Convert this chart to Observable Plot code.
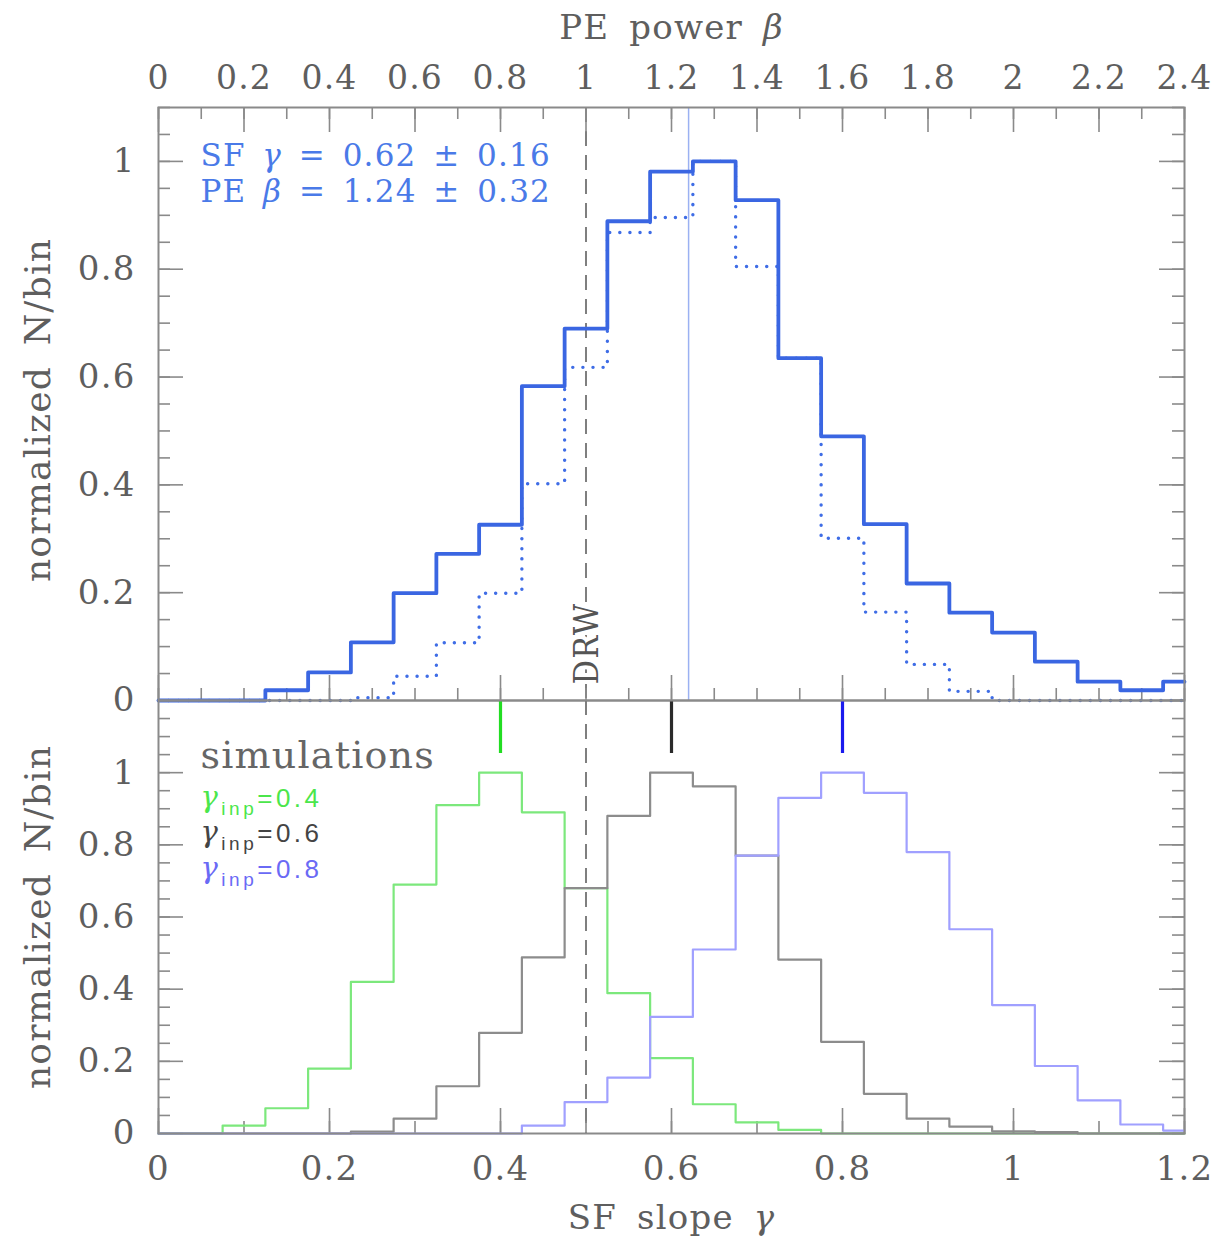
<!DOCTYPE html>
<html><head><meta charset="utf-8">
<script src="https://cdn.jsdelivr.net/npm/d3@7"></script>
<script src="https://cdn.jsdelivr.net/npm/@observablehq/plot@0.6"></script>
<style>
body{margin:0;background:#fff;}
#chart{width:1219px;}
#chart svg{display:block;overflow:visible;}
#chart text{letter-spacing:1.2px;word-spacing:8px;}
</style></head><body><div id="chart"></div>
<script>
// ---------- data ----------
const binCenters = [0,0.05,0.10,0.15,0.20,0.25,0.30,0.35,0.40,0.45,0.50,0.55,0.60,0.65,0.70,0.75,0.80,0.85,0.90,0.95,1.00,1.05,1.10,1.15,1.20];
const obsSolid  = [0,0,0,0.019,0.052,0.108,0.199,0.272,0.326,0.583,0.69,0.889,0.981,1.0,0.928,0.635,0.49,0.327,0.217,0.163,0.126,0.072,0.035,0.019,0.035];
const obsDotted = [0,0,0,0,0,0.005,0.045,0.107,0.199,0.402,0.618,0.868,0.896,1.0,0.805,0.635,0.301,0.164,0.067,0.017,0,0,0,0,0];
const simGreen  = [0,0,0.022,0.07,0.18,0.42,0.69,0.91,1.0,0.89,0.68,0.389,0.209,0.081,0.031,0.01,0,0,0,0,0,0,0,0,0];
const simGray   = [0,0,0,0,0,0.005,0.041,0.131,0.279,0.488,0.68,0.88,1.0,0.962,0.77,0.482,0.254,0.11,0.041,0.019,0.006,0.004,0,0,0];
const simBlue   = [0,0,0,0,0,0,0,0,0,0.022,0.087,0.155,0.323,0.51,0.77,0.93,1.0,0.944,0.78,0.566,0.356,0.187,0.092,0.025,0.008];
const simInputs = [0.4,0.6,0.8];
const simLabels = ["γ_inp=0.4","γ_inp=0.6","γ_inp=0.8"];
const fitGamma = 0.62;
const drwGamma = 0.5;
const statLines = ["SF\u2002γ\u2002=\u20020.62\u2002±\u20020.16","PE\u2002β\u2002=\u20021.24\u2002±\u20020.32"];
const gammaTicks = [0,0.2,0.4,0.6,0.8,1.0,1.2];
const gammaTickLabels = ["0","0.2","0.4","0.6","0.8","1","1.2"];
const betaTicksGamma = [0,0.1,0.2,0.3,0.4,0.5,0.6,0.7,0.8,0.9,1.0,1.1,1.2];
const betaTickLabels = ["0","0.2","0.4","0.6","0.8","1","1.2","1.4","1.6","1.8","2","2.2","2.4"];
const yTicks = [0,0.2,0.4,0.6,0.8,1];
const yTickLabels = ["0","0.2","0.4","0.6","0.8","1"];

// ---------- layout ----------
const W = 1219, ML = 158, MR = 35;
const innerW = W - ML - MR;
const FONT = '"DejaVu Serif",serif';
const AX = "#5e5e5e", FR = "#8a8a8a";
const MAJ = 25, MIN = 12;

const range = (a, b, s) => d3.range(Math.round((b - a) / s) + 1).map(i => +(a + i * s).toFixed(4));
function steps(values) {
  const pts = [];
  binCenters.forEach((c, i) => {
    pts.push({x: Math.max(0, c - 0.025), y: values[i]}, {x: Math.min(1.2, c + 0.025), y: values[i]});
  });
  return pts;
}
function tickMarks(innerH, xMajor, xMinor, yMajor, yMinor, withTop) {
  const m = [];
  const st = {stroke: FR, strokeWidth: 1.6};
  m.push(Plot.ruleY(yMajor, {...st, insetRight: innerW - MAJ}));
  m.push(Plot.ruleY(yMinor, {...st, insetRight: innerW - MIN}));
  m.push(Plot.ruleY(yMajor, {...st, insetLeft: innerW - MAJ}));
  m.push(Plot.ruleY(yMinor, {...st, insetLeft: innerW - MIN}));
  if (withTop) {
    m.push(Plot.ruleX(withTop[0], {...st, insetBottom: innerH - MAJ}));
    m.push(Plot.ruleX(withTop[1], {...st, insetBottom: innerH - MIN}));
  }
  m.push(Plot.ruleX(xMajor, {...st, insetTop: innerH - MAJ}));
  m.push(Plot.ruleX(xMinor, {...st, insetTop: innerH - MIN}));
  return m;
}

// ---------- top panel ----------
const topH = 700, topMT = 107;
const topInnerH = topH - topMT;
const topChart = Plot.plot({
  width: W, height: topH, marginLeft: ML, marginRight: MR, marginTop: topMT, marginBottom: 0,
  x: {domain: [0, 1.2]}, y: {domain: [0, 1.1]},
  style: {fontFamily: FONT, overflow: "visible", background: "transparent"},
  marks: [
    Plot.ruleX([drwGamma], {stroke: "#555", strokeWidth: 1.5, strokeDasharray: "15,9"}),
    Plot.ruleX([fitGamma], {stroke: "#9bb1f2", strokeWidth: 1.5}),
    ...tickMarks(topInnerH, range(0, 1.2, 0.2), range(0, 1.2, 0.05), yTicks, range(0, 1.1, 0.05),
                 [range(0, 1.2, 0.1), range(0, 1.2, 0.05)]),
    Plot.line(steps(obsDotted), {x: "x", y: "y", stroke: "#3f6de6", strokeWidth: 3.4, strokeDasharray: "0.1,10", strokeLinecap: "round"}),
    Plot.line(steps(obsSolid), {x: "x", y: "y", stroke: "#3a66e2", strokeWidth: 3.8}),
    Plot.frame({stroke: FR, strokeWidth: 2}),
    Plot.axisX(betaTicksGamma, {anchor: "top", tickSize: 0, tickPadding: 19, fontSize: 33, color: AX, label: null,
      tickFormat: d => betaTickLabels[betaTicksGamma.indexOf(d)]}),
    Plot.axisY(yTicks, {anchor: "left", tickSize: 0, tickPadding: 23, fontSize: 34, color: AX, label: null,
      tickFormat: d => yTickLabels[yTicks.indexOf(d)]}),
    Plot.text(["PE power β"], {frameAnchor: "top", dy: -69, lineAnchor: "bottom", fontSize: 34, fill: AX}),
    Plot.text(["normalized N/bin"], {frameAnchor: "left", dx: -120, dy: 6, rotate: -90, textAnchor: "middle", lineAnchor: "middle", fontSize: 36, fill: AX}),
    Plot.text(["DRW"], {x: drwGamma, frameAnchor: "bottom", dx: 1, dy: -57, rotate: -90, textAnchor: "middle", lineAnchor: "middle", fontSize: 34, fontFamily: '"DejaVu Serif Condensed","DejaVu Serif",serif', fill: "#555", stroke: "white", strokeWidth: 8}),
    ...statLines.map((s, i) => Plot.text([s], {frameAnchor: "top-left", dx: 42, dy: 58 + i * 36, textAnchor: "start", lineAnchor: "bottom", fontSize: 31, fill: "#4a7ae8"}))
  ]
});

// ---------- bottom panel ----------
const botH = 537, botMB = 104;
const botInnerH = botH - botMB;
const simColors = ["#7ce87c", "#8c8c8c", "#a0a0ff"];
const markColors = ["#22dd22", "#2a2a2a", "#1a1aee"];
const labelColors = ["#4be64b", "#444444", "#6a6af5"];
const simSeries = [simGreen, simGray, simBlue];
const botChart = Plot.plot({
  width: W, height: botH, marginLeft: ML, marginRight: MR, marginTop: 0, marginBottom: botMB,
  x: {domain: [0, 1.2]}, y: {domain: [0, 1.2]},
  style: {fontFamily: FONT, overflow: "visible", background: "transparent"},
  marks: [
    Plot.ruleX([drwGamma], {stroke: "#555", strokeWidth: 1.5, strokeDasharray: "15,9"}),
    ...tickMarks(botInnerH, range(0, 1.2, 0.2), range(0, 1.2, 0.1), yTicks, range(0, 1.2, 0.05), null),
    ...simSeries.map((s, i) => Plot.line(steps(s), {x: "x", y: "y", stroke: simColors[i], strokeWidth: 2.2})),
    ...simInputs.map((g, i) => Plot.ruleX([g], {stroke: markColors[i], strokeWidth: 3.2, insetBottom: botInnerH - 53})),
    Plot.frame({stroke: FR, strokeWidth: 2}),
    Plot.axisX(gammaTicks, {anchor: "bottom", tickSize: 0, tickPadding: 22, fontSize: 34, color: AX, label: null,
      tickFormat: d => gammaTickLabels[gammaTicks.indexOf(d)]}),
    Plot.axisY(yTicks, {anchor: "left", tickSize: 0, tickPadding: 23, fontSize: 34, color: AX, label: null,
      tickFormat: d => yTickLabels[yTicks.indexOf(d)]}),
    Plot.text(["SF slope γ"], {frameAnchor: "bottom", dy: 95, lineAnchor: "bottom", fontSize: 34, fill: AX}),
    Plot.text(["normalized N/bin"], {frameAnchor: "left", dx: -120, rotate: -90, textAnchor: "middle", lineAnchor: "middle", fontSize: 36, fill: AX}),
    Plot.text(["simulations"], {frameAnchor: "top-left", dx: 42, dy: 67, textAnchor: "start", lineAnchor: "bottom", fontSize: 38, fill: "#666"}),
    ...simLabels.map((s, i) => Plot.text([s], {frameAnchor: "top-left", dx: 42, dy: 106 + i * 35.5, textAnchor: "start", lineAnchor: "bottom", fontSize: 26, fill: labelColors[i]}))
  ]
});

// ---------- rich text: italic greek, sans subscripts ----------
function richText(svg) {
  svg.querySelectorAll("text").forEach(t => {
    if (t.childElementCount !== 0) return;
    const s = t.textContent;
    if (!/[γβ_]/.test(s)) return;
    const isSim = s.includes("_");
    t.textContent = "";
    if (isSim) t.style.letterSpacing = "3.5px";
    const re = /(_[a-z]+)|([γβ])|([^γβ_]+)/g;
    let m, lift = 0;
    while ((m = re.exec(s))) {
      const ts = document.createElementNS("http://www.w3.org/2000/svg", "tspan");
      if (m[1]) {
        ts.textContent = m[1].slice(1);
        ts.setAttribute("font-size", "19");
        ts.setAttribute("font-family", '"Liberation Sans",Arial,sans-serif');
        ts.setAttribute("dy", "8");
        lift = 8;
      } else {
        ts.textContent = m[2] || m[3];
        if (lift) { ts.setAttribute("dy", String(-lift)); lift = 0; }
        if (m[2]) { ts.setAttribute("font-style", "italic"); if (isSim) ts.setAttribute("font-size", "29"); }
        else if (isSim) ts.setAttribute("font-family", '"Liberation Sans",Arial,sans-serif');
      }
      t.appendChild(ts);
    }
  });
}
richText(topChart); richText(botChart);
const root = document.getElementById("chart");
root.appendChild(topChart);
root.appendChild(botChart);
</script>
</body></html>
